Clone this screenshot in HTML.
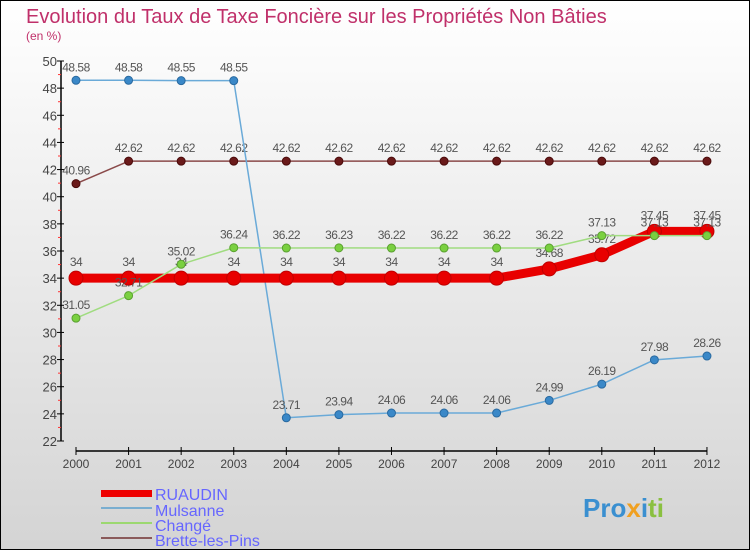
<!DOCTYPE html>
<html><head><meta charset="utf-8"><style>
body{margin:0;width:750px;height:550px;overflow:hidden;font-family:"Liberation Sans",sans-serif}
#wrap{position:relative;width:748px;height:548px;border:1px solid #000;background:linear-gradient(#fff,#d4d4d4)}
</style></head><body>
<div id="wrap">
<svg id="chart" width="748" height="548">
<text x="25" y="22" font-size="20" fill="#c0306a">Evolution du Taux de Taxe Foncière sur les Propriétés Non Bâties</text>
<text x="25" y="39" font-size="12" fill="#c0306a">(en %)</text>
<g id="axes"></g><g id="series"></g>
<g>
<rect x="100" y="489" width="51" height="7" fill="#e00"/>
<text x="154" y="499" font-size="16" fill="#66f">RUAUDIN</text>
<line x1="100" y1="507" x2="151" y2="507" stroke="#7aaed0" stroke-width="2"/>
<text x="154" y="515" font-size="16" fill="#66f">Mulsanne</text>
<line x1="100" y1="522" x2="151" y2="522" stroke="#9cd870" stroke-width="2"/>
<text x="154" y="530" font-size="16" fill="#66f">Changé</text>
<line x1="100" y1="537" x2="151" y2="537" stroke="#8a5a5a" stroke-width="2"/>
<text x="154" y="545" font-size="16" fill="#66f">Brette-les-Pins</text>
</g>
<g font-size="26" font-weight="bold">
<text x="582" y="516"><tspan fill="#3a8fd0">Pro</tspan><tspan fill="#f0a020">x</tspan><tspan fill="#3a8fd0">i</tspan><tspan fill="#8ac040">ti</tspan></text>
</g>
</svg></div>
<script>
const years=["2000","2001","2002","2003","2004","2005","2006","2007","2008","2009","2010","2011","2012"];
const ruaudin=[34,34,34,34,34,34,34,34,34,34.68,35.72,37.45,37.45];
const mulsanne=[48.58,48.58,48.55,48.55,23.71,23.94,24.06,24.06,24.06,24.99,26.19,27.98,28.26];
const change=[31.05,32.71,35.02,36.24,36.22,36.23,36.22,36.22,36.22,36.22,37.13,37.13,37.13];
const brette=[40.96,42.62,42.62,42.62,42.62,42.62,42.62,42.62,42.62,42.62,42.62,42.62,42.62];
const yTicks=[22,24,26,28,30,32,34,36,38,40,42,44,46,48,50];
const NS="http://www.w3.org/2000/svg";
const X=i=>75+i*52.58;
const Y=v=>60+(50-v)*(380/28);
function mk(t,a,p){const e=document.createElementNS(NS,t);for(const k in a)e.setAttribute(k,a[k]);p.appendChild(e);return e;}
const ax=document.getElementById('axes');
const yl=mk('line',{x1:60,y1:Y(50),x2:60,y2:Y(22),stroke:'#000','stroke-width':1.5},ax);


const xl=mk('line',{x1:75,y1:450,x2:706,y2:450,stroke:'#000','stroke-width':1.5},ax);


yTicks.forEach(v=>{
 mk('line',{x1:56,y1:Y(v),x2:63,y2:Y(v),stroke:'#000'},ax);
 if(v<50)mk('line',{x1:57,y1:Y(v+1),x2:60,y2:Y(v+1),stroke:'#f33'},ax);
 const t=mk('text',{x:56,y:Y(v)+5,'font-size':13,fill:'#444','text-anchor':'end'},ax);t.textContent=v;
 
 
});
years.forEach((y,i)=>{
 mk('line',{x1:X(i),y1:446,x2:X(i),y2:454,stroke:'#000'},ax);
 const t=mk('text',{x:X(i),y:467,'font-size':12,fill:'#444','text-anchor':'middle'},ax);t.textContent=y;
 
 
});
const sg=document.getElementById('series');
function draw(name,vals,color,w,r,dot,dotStroke,labOff){
 const g=mk('g',{},sg);
 
 
 const p=mk('polyline',{points:vals.map((v,i)=>X(i)+','+Y(v)).join(' '),fill:'none',stroke:color,'stroke-width':w,'stroke-linejoin':'round'},g);
 
 
 vals.forEach((v,i)=>{
  const c=mk('circle',{cx:X(i),cy:Y(v),r:r,fill:dot,stroke:dotStroke},g);
  
  
  const t=mk('text',{x:X(i),y:Y(v)+labOff,'font-size':12,fill:'#555','text-anchor':'middle','letter-spacing':'-0.5'},g);
  t.textContent=String(v);
  
  
 });
}
draw('brette',brette,'#8a4a4a',1.5,4,'#6a1a1a','#4a0a0a',-9);
draw('mulsanne',mulsanne,'#6aaad8',1.5,4,'#3a88c8','#2a6aa0',-9);
draw('ruaudin',ruaudin,'#e80000',9,7,'#e80000','#c00000',-12);
draw('change',change,'#a0dc80',1.5,4,'#7ad040','#5aa030',-9);
</script>
</body></html>
